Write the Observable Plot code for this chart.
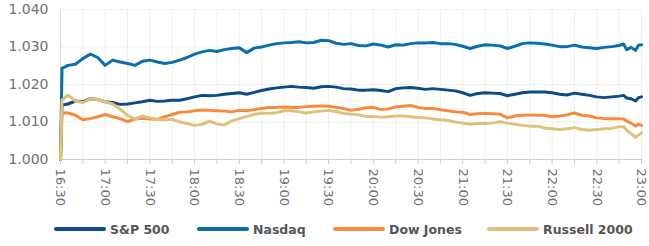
<!DOCTYPE html>
<html>
<head>
<meta charset="utf-8">
<script src="https://cdn.jsdelivr.net/npm/d3@7"></script>
<script src="https://cdn.jsdelivr.net/npm/@observablehq/plot@0.6"></script>
<style>
  html, body { margin: 0; padding: 0; background: #fff; }
  #chart { width: 649px; height: 212px; }
  #legend { position: relative; width: 649px; height: 34px;
    font-family: "DejaVu Sans", sans-serif; font-weight: bold; font-size: 12.5px; color: #555; }
  .item { position: absolute; top: 0; height: 34px; display: flex; align-items: center; gap: 4px; white-space: nowrap; }
  .sw { width: 52px; height: 4px; border-radius: 2px; flex-shrink: 0; }
</style>
</head>
<body>
<div id="chart"></div>
<div id="legend"></div>
<script>
const times = ["16:30","16:31","16:35","16:40","16:45","16:50","16:55","17:00","17:05","17:10","17:15","17:20","17:25","17:30","17:35","17:40","17:45","17:50","17:55","18:00",
"18:05","18:10","18:15","18:20","18:25","18:30","18:35","18:40","18:45","18:50","18:55","19:00","19:05","19:10","19:15","19:20","19:25","19:30","19:35",
"19:40","19:45","19:50","19:55","20:00","20:05","20:10","20:15","20:20","20:25","20:30","20:35","20:40","20:45","20:50","20:55","21:00","21:05","21:10",
"21:15","21:20","21:25","21:30","21:35","21:40","21:45","21:50","21:55","22:00","22:05","22:10","22:15","22:20","22:25","22:30","22:35","22:40","22:45",
"22:48","22:50","22:53","22:56","22:58","23:00"];

const seriesNames = ["S&P 500", "Nasdaq", "Dow Jones", "Russell 2000"];
const seriesColors = ["#0c4a88", "#0a6eaa", "#f78b3d", "#dcc27b"];
const legendLeft = [54, 197, 333, 487];

const sp500 = [1.000,1.0145,
1.0148,1.0156,1.0154,1.0162,1.0160,1.0154,1.0152,1.0147,1.0148,1.0151,1.0154,1.0158,1.0155,1.0156,1.0158,1.0158,1.0162,1.0167,1.0171,
1.0170,1.0171,1.0174,1.0176,1.0178,1.0174,1.0179,1.0184,1.0188,1.0191,1.0193,1.0195,1.0193,1.0192,1.0190,1.0194,1.0195,1.0193,1.0189,
1.0188,1.0185,1.0185,1.0186,1.0184,1.0181,1.0189,1.0191,1.0192,1.0190,1.0187,1.0189,1.0187,1.0185,1.0183,1.0178,1.0171,1.0176,1.0178,
1.0177,1.0176,1.0170,1.0174,1.0178,1.0180,1.0180,1.0180,1.0178,1.0174,1.0172,1.0177,1.0174,1.0171,1.0167,1.0165,1.0167,1.0169,
1.0171,1.0164,1.0162,1.0156,1.0165,1.0167];

const nasdaq = [1.000,1.0243,
1.0251,1.0254,1.0269,1.0281,1.0272,1.0251,1.0265,1.0260,1.0256,1.0251,1.0262,1.0265,1.0260,1.0256,1.0259,1.0265,1.0272,1.0281,1.0287,
1.0291,1.0288,1.0293,1.0296,1.0298,1.0285,1.0297,1.0300,1.0305,1.0309,1.0311,1.0312,1.0314,1.0311,1.0312,1.0318,1.0317,1.0310,1.0307,
1.0309,1.0304,1.0303,1.0308,1.0305,1.0300,1.0306,1.0305,1.0309,1.0311,1.0311,1.0312,1.0309,1.0309,1.0307,1.0302,1.0296,1.0302,1.0306,
1.0305,1.0303,1.0296,1.0302,1.0309,1.0311,1.0310,1.0308,1.0305,1.0301,1.0301,1.0305,1.0300,1.0298,1.0296,1.0299,1.0301,1.0304,
1.0308,1.0293,1.0299,1.0291,1.0305,1.0306];

const dowJones = [1.000,1.0124,
1.0124,1.0118,1.0106,1.0109,1.0114,1.0120,1.0114,1.0109,1.0101,1.0108,1.0110,1.0108,1.0107,1.0114,1.0120,1.0126,1.0127,1.0130,1.0132,
1.0131,1.0130,1.0129,1.0127,1.0131,1.0130,1.0133,1.0136,1.0139,1.0139,1.0140,1.0139,1.0139,1.0141,1.0142,1.0143,1.0142,1.0139,1.0136,
1.0131,1.0134,1.0138,1.0139,1.0133,1.0135,1.0140,1.0142,1.0144,1.0139,1.0136,1.0136,1.0133,1.0130,1.0127,1.0126,1.0120,1.0122,1.0123,
1.0122,1.0121,1.0111,1.0116,1.0118,1.0119,1.0118,1.0118,1.0114,1.0116,1.0119,1.0124,1.0118,1.0116,1.0111,1.0109,1.0109,1.0109,
1.0108,1.0103,1.0097,1.0089,1.0094,1.0091];

const russell2000 = [1.000,1.0158,
1.0172,1.0156,1.0152,1.0162,1.0160,1.0154,1.0148,1.0134,1.0118,1.0108,1.0116,1.0111,1.0107,1.0106,1.0107,1.0100,1.0096,1.0091,1.0094,
1.0102,1.0095,1.0092,1.0103,1.0109,1.0115,1.0120,1.0124,1.0123,1.0125,1.0130,1.0130,1.0127,1.0124,1.0127,1.0129,1.0131,1.0128,1.0123,
1.0121,1.0119,1.0115,1.0115,1.0113,1.0114,1.0116,1.0116,1.0114,1.0112,1.0111,1.0108,1.0106,1.0104,1.0100,1.0097,1.0094,1.0096,1.0096,
1.0097,1.0101,1.0097,1.0094,1.0091,1.0089,1.0089,1.0084,1.0082,1.0080,1.0082,1.0085,1.0080,1.0078,1.0080,1.0082,1.0083,1.0087,
1.0088,1.0078,1.0069,1.0059,1.0065,1.0071];

const xTickLabels = ["16:30","17:00","17:30","18:00","18:30","19:00","19:30","20:00","20:30","21:00","21:30","22:00","22:30","23:00"];
const yTicks = [1.000, 1.010, 1.020, 1.030, 1.040];

const toDate = t => new Date(`2024-01-02T${t}:00Z`);
const allSeries = [sp500, nasdaq, dowJones, russell2000];
const data = [];
allSeries.forEach((vals, s) => {
  vals.forEach((v, i) => data.push({time: toDate(times[i]), value: v, series: seriesNames[s]}));
});

const x0 = toDate(xTickLabels[0]);
const x1 = toDate(xTickLabels[xTickLabels.length - 1]);
const quarterTicks = d3.utcMinute.every(15).range(x0, new Date(+x1 + 1));
const labelSet = new Set(xTickLabels);
const fmt = d3.utcFormat("%H:%M");

const chart = Plot.plot({
  width: 649,
  height: 212,
  marginLeft: 60,
  marginRight: 8,
  marginTop: 9,
  marginBottom: 53,
  style: {fontFamily: "DejaVu Sans, sans-serif", background: "#fff"},
  x: {type: "utc", domain: [x0, x1]},
  y: {domain: [1.000, 1.040]},
  color: {domain: seriesNames, range: seriesColors},
  marks: [
    Plot.ruleX(quarterTicks, {stroke: "#efefef", strokeWidth: 1}),
    Plot.ruleY(yTicks.slice(1), {stroke: "#efefef", strokeWidth: 1}),
    Plot.ruleX([x0], {stroke: "#dcdcdc", strokeWidth: 1}),
    Plot.ruleY([yTicks[0]], {stroke: "#cfcfcf", strokeWidth: 1.2}),
    Plot.axisY({ticks: yTicks, tickFormat: d3.format(".3f"), tickSize: 0, tickPadding: 12,
      fontSize: 14, fill: "#707070", label: null, style: {letterSpacing: "0.3px"}}),
    Plot.axisX({ticks: quarterTicks, tickSize: 5, tickPadding: 4, stroke: "#cfcfcf",
      tickFormat: d => labelSet.has(fmt(d)) ? fmt(d) : "",
      tickRotate: 90, fontSize: 13, fill: "#707070", label: null}),
    Plot.line(data, {x: "time", y: "value", z: "series", stroke: "series", strokeWidth: 3,
      strokeLinejoin: "round", strokeLinecap: "round"})
  ]
});
document.getElementById("chart").appendChild(chart);

const legend = document.getElementById("legend");
seriesNames.forEach((name, i) => {
  const item = document.createElement("div");
  item.className = "item";
  item.style.left = legendLeft[i] + "px";
  const sw = document.createElement("div");
  sw.className = "sw";
  sw.style.background = seriesColors[i];
  const lab = document.createElement("span");
  lab.textContent = name;
  item.appendChild(sw);
  item.appendChild(lab);
  legend.appendChild(item);
});
</script>
</body>
</html>
